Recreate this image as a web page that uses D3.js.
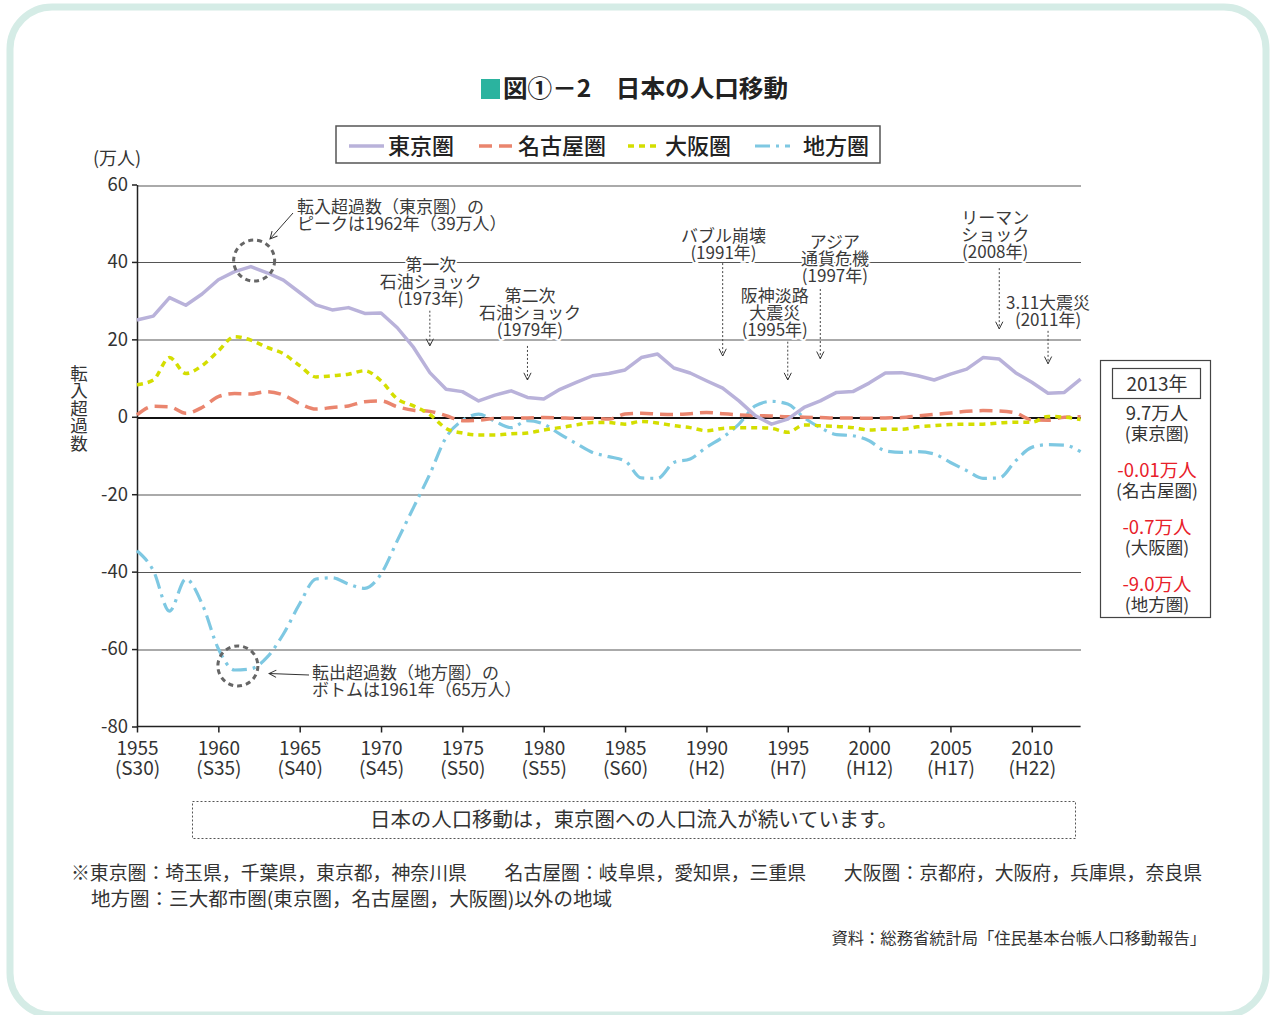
<!DOCTYPE html>
<meta charset="utf-8">
<head>
<style>
body { margin: 0; background: #fff; }
svg text { font-family: "Noto Sans CJK JP", "Noto Sans", sans-serif; fill: #333; }
.grid line { shape-rendering: crispEdges; }
.axis path, .axis line { stroke: #222; stroke-width: 1.5px; }
.axis text { font-size: 19px; fill: #333; }
.note { font-size: 17px; fill: #3a3a3a; }
</style>
<script src="https://d3js.org/d3.v7.min.js"></script>
<title>日本の人口移動</title>
</head>
<body>
<script>

// years 1955..2013
var years = d3.range(1955, 2014);

// 転入超過数 (万人)
var tokyo = [25.0, 26.0, 30.8, 28.8, 31.7, 35.4, 37.5, 38.8, 37.2, 35.3,
             32.1, 28.9, 27.6, 28.2, 26.7, 26.8, 23.0, 17.9, 11.4, 7.1,
             6.5, 4.1, 5.6, 6.7, 5.0, 4.6, 7.1, 8.9, 10.6, 11.2,
             12.1, 15.3, 16.2, 12.6, 11.3, 9.3, 7.4, 4.1, 0.3, -1.9,
             -0.6, 2.4, 4.1, 6.3, 6.5, 8.7, 11.3, 11.4, 10.6, 9.5,
             11.0, 12.3, 15.3, 14.9, 11.4, 8.9, 6.1, 6.3, 9.7];
var nagoya = [0.5, 2.7, 2.6, 0.9, 2.4, 5.2, 6.0, 5.9, 6.5, 5.6,
              3.4, 2.0, 2.4, 2.8, 3.9, 4.1, 2.6, 1.7, 1.4, 0.3,
              -1.0, -0.9, -0.4, -0.3, -0.3, -0.2, -0.3, -0.4, -0.4, -0.6,
              0.7, 0.9, 0.7, 0.6, 0.8, 1.1, 0.8, 0.5, 0.3, 0.2,
              0.0, -0.1, -0.2, -0.3, -0.3, -0.4, -0.3, -0.2, 0.2, 0.6,
              1.0, 1.4, 1.6, 1.5, 1.0, -0.8, -0.9, -0.1, -0.01];
var osaka = [8.3, 9.5, 15.3, 11.2, 13.2, 17.0, 20.7, 19.8, 17.9, 16.3,
             13.2, 10.3, 10.6, 11.0, 11.9, 9.3, 4.6, 2.8, 0.6, -3.0,
             -4.2, -4.7, -4.7, -4.4, -4.2, -3.4, -2.8, -2.1, -1.5, -1.5,
             -1.9, -1.2, -1.6, -2.3, -2.8, -3.6, -3.0, -2.8, -2.8, -3.0,
             -4.0, -2.1, -2.3, -2.5, -2.8, -3.4, -3.2, -3.2, -2.6, -2.3,
             -2.0, -1.9, -1.9, -1.6, -1.4, -1.4, 0.1, -0.1, -0.7];
var chiho = [-34.6, -39.7, -50.2, -41.9, -48.3, -59.9, -65.4, -65.1, -62.1, -56.1,
             -48.3, -41.9, -41.6, -43.2, -44.3, -40.6, -32.0, -23.4, -14.8, -5.3,
             -1.0, 0.7, -1.2, -2.8, -1.0, -1.9, -4.5, -6.9, -9.2, -10.3,
             -11.4, -15.8, -15.9, -11.8, -10.9, -7.9, -5.3, -1.9, 2.8, 4.0,
             3.3, -0.2, -2.8, -4.6, -4.9, -6.2, -8.8, -9.2, -9.0, -9.6,
             -11.8, -13.9, -15.9, -15.8, -11.4, -7.9, -7.2, -7.3, -9.0];

var seriesNames = ["東京圏", "名古屋圏", "大阪圏", "地方圏"];
var yTicks = [-80, -60, -40, -20, 0, 20, 40, 60];
var xTicks = [1955, 1960, 1965, 1970, 1975, 1980, 1985, 1990, 1995, 2000, 2005, 2010];
var eraLabels = ["(S30)", "(S35)", "(S40)", "(S45)", "(S50)", "(S55)", "(S60)", "(H2)", "(H7)", "(H12)", "(H17)", "(H22)"];

var summary = [
  {value: "9.7万人", name: "(東京圏)", red: false},
  {value: "-0.01万人", name: "(名古屋圏)", red: true},
  {value: "-0.7万人", name: "(大阪圏)", red: true},
  {value: "-9.0万人", name: "(地方圏)", red: true}
];

// events: label lines, label centre (year), arrow year, first baseline (px), arrow from/to (value)
var events = [
  {lines: ["第一次", "石油ショック", "(1973年)"], cx: 1973.05, ax: 1973, top: 271, from: 27.4, to: 18.3},
  {lines: ["第二次", "石油ショック", "(1979年)"], cx: 1979.15, ax: 1979, top: 302, from: 18.3, to: 9.5},
  {lines: ["バブル崩壊", "(1991年)"], cx: 1991.05, ax: 1991, top: 242, from: 39.7, to: 15.7},
  {lines: ["阪神淡路", "大震災", "(1995年)"], cx: 1994.2, ax: 1995, top: 302, from: 19.4, to: 9.5},
  {lines: ["アジア", "通貨危機", "(1997年)"], cx: 1997.9, ax: 1997, top: 248, from: 33.0, to: 15.0},
  {lines: ["リーマン", "ショック", "(2008年)"], cx: 2007.75, ax: 2008, top: 224, from: 38.4, to: 22.7},
  {lines: ["3.11大震災", "(2011年)"], cx: 2011.0, ax: 2011, top: 309, from: 22.2, to: 13.7}
];

var W = 1276, H = 1015;
var x = d3.scaleLinear().domain([1955, 2013]).range([137, 1080.6]);
var y = d3.scaleLinear().domain([-80, 60]).range([726.5, 184.5]);

var svg = d3.select("body").append("svg")
    .attr("width", W)
    .attr("height", H);

// outer rounded frame
svg.append("rect")
    .attr("x", 10).attr("y", 7)
    .attr("width", W - 20).attr("height", 1008)
    .attr("rx", 42)
    .attr("fill", "none")
    .attr("stroke", "#d5ece6")
    .attr("stroke-width", 7);

var defs = svg.append("defs");
defs.append("marker")
    .attr("id", "arrow")
    .attr("viewBox", "0 0 10 10")
    .attr("refX", 9).attr("refY", 5)
    .attr("markerWidth", 9).attr("markerHeight", 9)
    .attr("markerUnits", "userSpaceOnUse")
    .attr("orient", "auto")
  .append("path")
    .attr("d", "M1,1 L9,5 L1,9")
    .attr("fill", "none")
    .attr("stroke", "#333")
    .attr("stroke-width", 1.1);

// title
svg.append("rect")
    .attr("x", 481).attr("y", 79)
    .attr("width", 19).attr("height", 20)
    .attr("fill", "#2bb39f");
svg.append("text")
    .attr("x", 503).attr("y", 97)
    .attr("textLength", 285)
    .attr("lengthAdjust", "spacingAndGlyphs")
    .style("font-size", "24px")
    .style("font-weight", "bold")
    .style("fill", "#222")
    .text("図①－2　日本の人口移動");

// legend
var legend = svg.append("g");
legend.append("rect")
    .attr("x", 336).attr("y", 126)
    .attr("width", 544).attr("height", 37)
    .attr("fill", "#fff")
    .attr("stroke", "#555")
    .attr("stroke-width", 1.5);

var styles = [
  {color: "#b9b2da", dash: null, width: 3.5},
  {color: "#ea856e", dash: "13,7", width: 3.5},
  {color: "#d4de00", dash: "6,5", width: 3.5},
  {color: "#7ec8e2", dash: "15,6,3,6", width: 3.2}
];
var legendPos = [
  {x1: 349, x2: 384, tx: 388},
  {x1: 479, x2: 513, tx: 518},
  {x1: 628, x2: 660, tx: 665},
  {x1: 755, x2: 790, tx: 803}
];
seriesNames.forEach(function(name, i) {
  legend.append("line")
      .attr("x1", legendPos[i].x1).attr("x2", legendPos[i].x2)
      .attr("y1", 146).attr("y2", 146)
      .attr("stroke", styles[i].color)
      .attr("stroke-width", styles[i].width)
      .attr("stroke-dasharray", styles[i].dash);
  legend.append("text")
      .attr("x", legendPos[i].tx).attr("y", 154)
      .style("font-size", "22px")
      .style("font-weight", "500")
      .style("fill", "#222")
      .text(name);
});

// gridlines
svg.append("g").attr("class", "grid")
  .selectAll("line")
  .data(yTicks.filter(function(d) { return d > -80; }))
  .enter().append("line")
    .attr("x1", x(1955)).attr("x2", x(2013))
    .attr("y1", function(d) { return Math.round(y(d)) + 0.5; })
    .attr("y2", function(d) { return Math.round(y(d)) + 0.5; })
    .attr("stroke", function(d) { return d === 0 ? "#111" : (d === 40 || d === -40 ? "#555" : "#aaa"); })
    .attr("stroke-width", function(d) { return d === 0 ? 2 : (d === 40 || d === -40 ? 1.2 : 2); });

// axes
var yAxis = svg.append("g")
    .attr("class", "axis")
    .attr("transform", "translate(" + x(1955) + ",0)")
    .call(d3.axisLeft(y).tickValues(yTicks).tickSize(5).tickSizeOuter(0).tickPadding(4)
      .tickFormat(function(d) { return String(d); }));
yAxis.selectAll("text").style("font-size", "18.5px");

var xAxis = svg.append("g")
    .attr("class", "axis")
    .attr("transform", "translate(0," + y(-80) + ")")
    .call(d3.axisBottom(x).tickValues(xTicks).tickSize(6).tickSizeOuter(0).tickFormat(""));
xAxis.select(".domain").attr("d", "M" + x(1955) + ",0H" + x(2013));
xAxis.selectAll(".tick").append("text")
    .attr("y", 28.5)
    .attr("text-anchor", "middle")
    .attr("fill", "#333")
    .text(function(d) { return d; });
xAxis.selectAll(".tick").append("text")
    .attr("y", 48.5)
    .attr("text-anchor", "middle")
    .attr("fill", "#333")
    .text(function(d, i) { return eraLabels[i]; });

svg.append("text")
    .attr("x", 117).attr("y", 165)
    .attr("text-anchor", "middle")
    .style("font-size", "18px")
    .text("(万人)");

svg.append("text")
    .attr("x", 79).attr("y", 408)
    .attr("text-anchor", "middle")
    .style("writing-mode", "vertical-rl")
    .style("font-size", "17.5px")
    .text("転入超過数");

// series lines
var allSeries = [tokyo, nagoya, osaka, chiho];
var curves = [d3.curveLinear, d3.curveMonotoneX, d3.curveMonotoneX, d3.curveMonotoneX];
[3, 1, 2, 0].forEach(function(i) {
  var line = d3.line()
      .curve(curves[i])
      .x(function(d, j) { return x(years[j]); })
      .y(function(d) { return y(d); });
  svg.append("path")
      .datum(allSeries[i])
      .attr("fill", "none")
      .attr("stroke", styles[i].color)
      .attr("stroke-width", styles[i].width)
      .attr("stroke-dasharray", styles[i].dash)
      .attr("stroke-linejoin", "round")
      .attr("d", line);
});

// peak / bottom annotations
var peakYear = years[d3.maxIndex(tokyo)];
var bottomYear = years[d3.minIndex(chiho)];
svg.append("circle")
    .attr("cx", x(1962.2)).attr("cy", y(d3.max(tokyo)) - 6)
    .attr("r", 20.5)
    .attr("fill", "none").attr("stroke", "#666")
    .attr("stroke-width", 3).attr("stroke-dasharray", "5,4");
svg.append("circle")
    .attr("cx", x(1961.2)).attr("cy", y(d3.min(chiho)) - 4)
    .attr("r", 20)
    .attr("fill", "none").attr("stroke", "#666")
    .attr("stroke-width", 3).attr("stroke-dasharray", "5,4");

svg.append("line")
    .attr("x1", 293).attr("y1", 213)
    .attr("x2", 270).attr("y2", 239)
    .attr("stroke", "#333").attr("stroke-width", 1)
    .attr("marker-end", "url(#arrow)");
svg.append("line")
    .attr("x1", 309).attr("y1", 675)
    .attr("x2", 269).attr("y2", 673.5)
    .attr("stroke", "#333").attr("stroke-width", 1)
    .attr("marker-end", "url(#arrow)");

svg.append("text").attr("class", "note").attr("x", 297).attr("y", 213)
    .text("転入超過数（東京圏）の");
svg.append("text").attr("class", "note").attr("x", 297).attr("y", 230)
    .text("ピークは" + peakYear + "年（39万人）");
svg.append("text").attr("class", "note").attr("x", 312).attr("y", 679)
    .text("転出超過数（地方圏）の");
svg.append("text").attr("class", "note").attr("x", 312).attr("y", 696)
    .text("ボトムは" + bottomYear + "年（65万人）");

// event labels
var ev = svg.append("g").selectAll("g").data(events).enter().append("g");
ev.each(function(d) {
  var g = d3.select(this);
  d.lines.forEach(function(t, k) {
    g.append("text")
        .attr("class", "note")
        .attr("x", x(d.cx))
        .attr("y", d.top + k * 16.8)
        .attr("text-anchor", "middle")
        .style("stroke", "#fff")
        .style("stroke-width", 4)
        .style("paint-order", "stroke")
        .text(t);
  });
  g.append("line")
      .attr("x1", x(d.ax)).attr("x2", x(d.ax))
      .attr("y1", y(d.from)).attr("y2", y(d.to))
      .attr("stroke", "#444")
      .attr("stroke-width", 1)
      .attr("stroke-dasharray", "2,2")
      .attr("marker-end", "url(#arrow)");
});

// 2013 summary box
var box = svg.append("g");
box.append("rect")
    .attr("x", 1100.5).attr("y", 360.5)
    .attr("width", 110).attr("height", 257)
    .attr("fill", "#fff").attr("stroke", "#444").attr("stroke-width", 1.2);
box.append("rect")
    .attr("x", 1112.5).attr("y", 368.5)
    .attr("width", 88).attr("height", 30)
    .attr("fill", "#fff").attr("stroke", "#444").attr("stroke-width", 1.2);
box.append("text")
    .attr("x", 1157).attr("y", 391)
    .attr("text-anchor", "middle")
    .style("font-size", "19px")
    .text("2013年");
summary.forEach(function(s, i) {
  box.append("text")
      .attr("x", 1157).attr("y", 420 + i * 57)
      .attr("text-anchor", "middle")
      .style("font-size", "18.5px")
      .style("fill", s.red ? "#e8202a" : "#333")
      .text(s.value);
  box.append("text")
      .attr("x", 1157).attr("y", 440 + i * 57)
      .attr("text-anchor", "middle")
      .style("font-size", "17.5px")
      .text(s.name);
});

// message box
svg.append("rect")
    .attr("x", 192.5).attr("y", 801.5)
    .attr("width", 883).attr("height", 37)
    .attr("fill", "none").attr("stroke", "#555")
    .attr("stroke-width", 1).attr("stroke-dasharray", "2,2");
svg.append("text")
    .attr("x", 634).attr("y", 827)
    .attr("text-anchor", "middle")
    .attr("textLength", 528)
    .attr("lengthAdjust", "spacingAndGlyphs")
    .style("font-size", "20px")
    .text("日本の人口移動は，東京圏への人口流入が続いています。");

// footnotes
svg.append("text")
    .attr("x", 71).attr("y", 880)
    .attr("textLength", 1131)
    .attr("lengthAdjust", "spacingAndGlyphs")
    .style("font-size", "19px")
    .text("※東京圏：埼玉県，千葉県，東京都，神奈川県　　名古屋圏：岐阜県，愛知県，三重県　　大阪圏：京都府，大阪府，兵庫県，奈良県");
svg.append("text")
    .attr("x", 91).attr("y", 906)
    .attr("textLength", 521)
    .attr("lengthAdjust", "spacingAndGlyphs")
    .style("font-size", "19px")
    .text("地方圏：三大都市圏(東京圏，名古屋圏，大阪圏)以外の地域");
svg.append("text")
    .attr("x", 1206).attr("y", 944)
    .attr("text-anchor", "end")
    .style("font-size", "16.3px")
    .text("資料：総務省統計局「住民基本台帳人口移動報告」");

</script>
</body>
</html>
